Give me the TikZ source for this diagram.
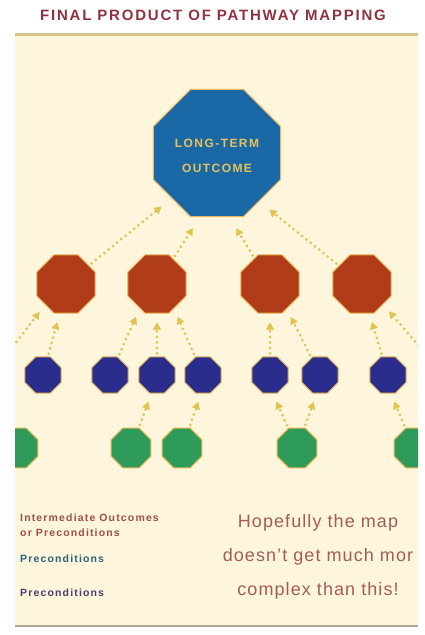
\documentclass[tikz,border=0pt]{standalone}
\usepackage{fontspec}
\setmainfont{Liberation Sans}
\newfontfamily\titlefont[LetterSpace=12]{Liberation Sans}
\newfontfamily\legendfont[LetterSpace=11]{Liberation Sans}
\newfontfamily\notefont[LetterSpace=6]{Liberation Sans}
\usetikzlibrary{shapes.geometric,arrows.meta}

\definecolor{cream}{HTML}{FDF5DC}
\definecolor{tanline}{HTML}{D7C38C}
\definecolor{greyline}{HTML}{AAA596}
\definecolor{titlered}{HTML}{8E3440}
\definecolor{ltblue}{HTML}{1A69A6}
\definecolor{rust}{HTML}{B03C19}
\definecolor{navy}{HTML}{2A2D8C}
\definecolor{leaf}{HTML}{2E9B5A}
\definecolor{glow}{HTML}{E9B75A}
\definecolor{dotgold}{HTML}{E1C350}
\definecolor{goldtext}{HTML}{E6C35A}
\definecolor{legendred}{HTML}{A05046}
\definecolor{legendteal}{HTML}{2C6478}
\definecolor{legendpurple}{HTML}{503C6E}
\definecolor{notered}{HTML}{A65C56}

\tikzset{
    octagon/.style={regular polygon,regular polygon sides=8,draw=glow,
        line width=1pt,inner sep=0pt},
    bigoct/.style={octagon,fill=ltblue,minimum size=138pt},
    redoct/.style={octagon,fill=rust,minimum size=63pt},
    navyoct/.style={octagon,fill=navy,minimum size=39pt},
    greenoct/.style={octagon,fill=leaf,minimum size=43pt},
    link/.style={draw=dotgold,line width=3pt,line cap=round,
        dash pattern=on 0pt off 5.5pt,
        -{Triangle[length=7pt,width=8pt,line width=0.5pt]},
        shorten >=9pt,shorten <=3pt},
    toplink/.style={shorten >=13pt},
    legend/.style={anchor=west,align=left,inner sep=0pt,
        font=\legendfont\bfseries\fontsize{10.5}{15}\selectfont}
}

\begin{document}
\begin{tikzpicture}[x=1pt,y=-1pt]
    \useasboundingbox (0,0) rectangle (424,635);
    \fill[white] (0,0) rectangle (424,635);
    \fill[cream] (15,35) rectangle (418,626);
    \draw[tanline,line width=3pt] (15,34) -- (418,34);
    \draw[greyline,line width=2pt] (15,626) -- (418,626);

    \node[text=titlered,font=\titlefont\bfseries\fontsize{15}{16}\selectfont]
        (title) at (213,15) {FINAL PRODUCT OF PATHWAY MAPPING};

    \begin{scope}
        \clip (15,35) rectangle (418,626);

        % outcome
        \node[bigoct] (lto) at (217,153) {};
        \node[text=goldtext,align=center,
            font=\titlefont\bfseries\fontsize{12}{25}\selectfont]
            (ltlabel) at (217,156) {LONG-TERM\\OUTCOME};

        % intermediate outcomes
        \node[redoct] (red1) at (66,284) {};
        \node[redoct] (red2) at (157,284) {};
        \node[redoct] (red3) at (270,284) {};
        \node[redoct] (red4) at (362,284) {};

        % preconditions
        \node[navyoct] (navy1) at (43,375) {};
        \node[navyoct] (navy2) at (110,375) {};
        \node[navyoct] (navy3) at (157,375) {};
        \node[navyoct] (navy4) at (203,375) {};
        \node[navyoct] (navy5) at (270,375) {};
        \node[navyoct] (navy6) at (320,375) {};
        \node[navyoct] (navy7) at (388,375) {};

        \node[greenoct] (green1) at (18,448) {};
        \node[greenoct] (green2) at (131,448) {};
        \node[greenoct] (green3) at (182,448) {};
        \node[greenoct] (green4) at (297,448) {};
        \node[greenoct] (green5) at (414,448) {};

        \coordinate (offleft) at (8,353);
        \coordinate (offright) at (424,352);

        \path (red1) edge[link,toplink] (lto.225);
        \path (red2) edge[link,toplink] (lto.255);
        \path (red3) edge[link,toplink] (lto.281);
        \path (red4) edge[link,toplink] (lto.311);

        \path (offleft) edge[link] (red1.225);
        \path (navy1) edge[link] (red1.258);
        \path (navy2) edge[link] (red2.235);
        \path (navy3) edge[link] (red2.270);
        \path (navy4) edge[link] (red2.305);
        \path (navy5) edge[link] (red3.270);
        \path (navy6) edge[link] (red3.304);
        \path (navy7) edge[link] (red4.284);
        \path (offright) edge[link] (red4.316);

        \path (green2) edge[link] (navy3.254);
        \path (green3) edge[link] (navy4.265);
        \path (green4) edge[link] (navy5.279);
        \path (green4) edge[link] (navy6.260);
        \path (green5) edge[link] (navy7.278);

        % key and note
        \node[legend,text=legendred] (keyint) at (20,525.5)
            {Intermediate Outcomes\\or Preconditions};
        \node[legend,text=legendteal] (keypre) at (20,559) {Preconditions};
        \node[legend,text=legendpurple] (keypretwo) at (20,593) {Preconditions};

        \node[text=notered,align=center,
            font=\notefont\fontsize{18}{34}\selectfont]
            (note) at (318,557) {Hopefully the map\\doesn’t get much mor\\complex than this!};
    \end{scope}
\end{tikzpicture}
\end{document}
